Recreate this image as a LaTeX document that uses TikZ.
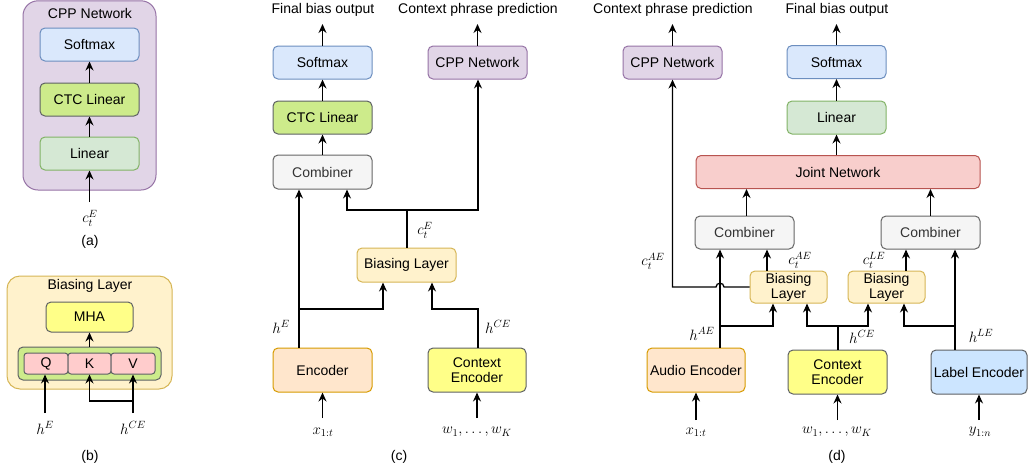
\RequirePackage{fix-cm}
\documentclass[tikz,border=0pt]{standalone}
\usepackage[no-math]{fontspec}
\setmainfont{Liberation Sans}
\usetikzlibrary{arrows.meta}
\definecolor{purF}{HTML}{E1D5E7}\definecolor{purD}{HTML}{9673A6}
\definecolor{bluF}{HTML}{DAE8FC}\definecolor{bluD}{HTML}{6C8EBF}
\definecolor{grnF}{HTML}{D5E8D4}\definecolor{grnD}{HTML}{82B366}
\definecolor{limF}{HTML}{CDEB8B}\definecolor{darkD}{HTML}{36393D}
\definecolor{gryF}{HTML}{F5F5F5}\definecolor{gryD}{HTML}{666666}\definecolor{gryT}{HTML}{333333}
\definecolor{ylwF}{HTML}{FFF2CC}\definecolor{ylwD}{HTML}{D6B656}
\definecolor{orgF}{HTML}{FFE6CC}\definecolor{orgD}{HTML}{D79B00}
\definecolor{lemF}{HTML}{FFFF88}
\definecolor{skyF}{HTML}{CCE5FF}
\definecolor{redF}{HTML}{F8CECC}\definecolor{redD}{HTML}{B85450}
\definecolor{pnkF}{HTML}{FFCCCC}
\newcommand{\lblfont}{\fontsize{14}{16}\selectfont}
\newcommand{\mthfont}{\fontsize{15}{17}\selectfont}
\tikzset{
  bx/.style={draw, rounded corners=5pt, line width=1pt, inner sep=0pt, align=center, font=\lblfont},
  purple/.style={bx, fill=purF, draw=purD},
  blue/.style={bx, fill=bluF, draw=bluD},
  green/.style={bx, fill=grnF, draw=grnD},
  lime/.style={bx, fill=limF, draw=darkD!80},
  grey/.style={bx, fill=gryF, draw=gryD, text=gryT},
  yellow/.style={bx, fill=ylwF, draw=ylwD},
  orange/.style={bx, fill=orgF, draw=orgD},
  lemon/.style={bx, fill=lemF, draw=darkD!80},
  sky/.style={bx, fill=skyF, draw=darkD!80},
  red/.style={bx, fill=redF, draw=redD},
  pink/.style={bx, fill=pnkF, draw=darkD!80, rounded corners=3pt},
  txt/.style={inner sep=0pt, font=\lblfont},
  mth/.style={inner sep=0pt, font=\mthfont},
  arr/.style={-{Stealth[length=9pt,width=8pt,inset=3pt]}, line width=1.3pt},
  ln/.style={line width=1.3pt},
}
\begin{document}
\begin{tikzpicture}[x=1pt,y=-1pt]
\path[use as bounding box, fill=white] (0,0) rectangle (1028,472);

% ---------------- (a)
\draw[fill=purF, draw=purD, line width=1pt, rounded corners=15pt] (23,0.8) rectangle (156,190);
\node[txt] (aTitle) at (90,13) {CPP Network};
\node[blue, minimum width=99pt, minimum height=33pt] (aSoft) at (89.5,44.5) {Softmax};
\node[lime, minimum width=99pt, minimum height=33pt] (aCTC) at (89.5,99.5) {CTC Linear};
\node[green, minimum width=99pt, minimum height=33pt] (aLin) at (89.5,153.5) {Linear};
\coordinate (aIn) at (89.5,202);
\node[mth] (aLab) at (90,218) {$c_t^E$};
\node[txt] (aCap) at (90,242) {(a)};
\draw[arr] (aIn) -- (aLin);
\draw[arr] (aLin) -- (aCTC);
\draw[arr] (aCTC) -- (aSoft);

% ---------------- (b)
\draw[fill=ylwF, draw=ylwD, line width=1pt, rounded corners=13pt] (7,276) rectangle (172,389);
\node[txt] (bTitle) at (90,286) {Biasing Layer};
\node[lemon, minimum width=87pt, minimum height=30pt] (bMHA) at (89.5,317) {MHA};
\node[bx, fill=limF, draw=darkD!80, minimum width=143pt, minimum height=33pt] (bQKV) at (89.5,363.5) {};
\node[pink, minimum width=44pt, minimum height=21pt] (bQ) at (46,363.5) {Q};
\node[pink, minimum width=43pt, minimum height=21pt] (bK) at (89.5,363.5) {K};
\node[pink, minimum width=44pt, minimum height=21pt] (bV) at (133,363.5) {V};
\draw[arr] (bQKV) -- (bMHA);
\node[mth] (bhE) at (45,428) {$h^E$};
\node[mth] (bhCE) at (133,428) {$h^{CE}$};
\coordinate (bQin) at (45,413);
\coordinate (bVin) at (133,413);
\coordinate (bJ) at (133,401);
\coordinate (bKj) at (89.5,401);
\draw[arr] (bQin) -- (bQ.south -| bQin);
\draw[arr] (bVin) -- (bV.south -| bVin);
\draw[arr] (bJ) -- (bKj) -- (bK.south);
\node[txt] (bCap) at (90,457) {(b)};

% ---------------- (c)
\node[blue, minimum width=99pt, minimum height=33pt] (cSoft) at (322.5,62.5) {Softmax};
\node[lime, minimum width=99pt, minimum height=33pt] (cCTC) at (322.5,117.5) {CTC Linear};
\node[grey, minimum width=99pt, minimum height=34pt] (cComb) at (322.5,172) {Combiner};
\node[purple, minimum width=99pt, minimum height=33pt] (cCPP) at (477.5,62.5) {CPP Network};
\node[yellow, minimum width=99pt, minimum height=34pt] (cBias) at (406.5,265) {Biasing Layer};
\node[orange, minimum width=99pt, minimum height=44pt] (cEnc) at (322.5,370) {Encoder};
\node[lemon, minimum width=98pt, minimum height=44pt] (cCtx) at (477,370) {Context\\[-1pt]Encoder};
\node[txt] (cOut1) at (323,10) {Final bias output};
\node[txt] (cOut2) at (478,10) {Context phrase prediction};
\coordinate (cO1) at (322.5,24);
\coordinate (cO2) at (477.5,24);
\draw[arr] (cSoft) -- (cO1);
\draw[arr] (cCPP) -- (cO2);
\draw[arr] (cCTC) -- (cSoft);
\draw[arr] (cComb) -- (cCTC);
\coordinate (cEj) at (299,309);
\coordinate (cB1) at (383,309);
\coordinate (cCj) at (478,309);
\coordinate (cB2) at (432,309);
\coordinate (cTj) at (407,210);
\coordinate (cL) at (347,210);
\coordinate (cR) at (478,210);
\draw[ln] (cEnc.north -| cEj) -- (cEj);
\draw[arr] (cEj) -- (cComb.south -| cEj);
\draw[arr] (cEj) -- (cB1) -- (cBias.south -| cB1);
\draw[arr] (cCtx.north -| cCj) -- (cCj) -- (cB2) -- (cBias.south -| cB2);
\draw[ln] (cBias.north -| cTj) -- (cTj);
\draw[arr] (cTj) -- (cL) -- (cComb.south -| cL);
\draw[arr] (cTj) -- (cR) -- (cCPP.south -| cR);
\node[mth] (cct) at (425,230) {$c_t^E$};
\node[mth] (chE) at (281,327) {$h^E$};
\node[mth] (chCE) at (498,327) {$h^{CE}$};
\node[mth] (cx) at (323,432) {$x_{1:t}$};
\node[mth] (cw) at (477,432) {$w_1,\ldots,w_K$};
\coordinate (cxi) at (322.5,418);
\coordinate (cwi) at (477,418);
\draw[arr] (cxi) -- (cEnc);
\draw[arr] (cwi) -- (cCtx);
\node[txt] (cCap) at (399,457) {(c)};

% ---------------- (d)
\node[purple, minimum width=99pt, minimum height=33pt] (dCPP) at (672.5,62.5) {CPP Network};
\node[blue, minimum width=99pt, minimum height=33pt] (dSoft) at (836.5,62) {Softmax};
\node[green, minimum width=99pt, minimum height=33pt] (dLin) at (836.5,117.5) {Linear};
\node[red, minimum width=284pt, minimum height=33pt] (dJoint) at (838,172) {Joint Network};
\node[grey, minimum width=99pt, minimum height=33pt] (dComb1) at (744.5,232.5) {Combiner};
\node[grey, minimum width=99pt, minimum height=33pt] (dComb2) at (930.5,232.5) {Combiner};
\node[yellow, minimum width=77pt, minimum height=32pt] (dBias1) at (788.5,287) {Biasing\\[-1pt]Layer};
\node[yellow, minimum width=77pt, minimum height=32pt] (dBias2) at (886.5,287) {Biasing\\[-1pt]Layer};
\node[orange, minimum width=98pt, minimum height=44pt] (dAE) at (696,370) {Audio Encoder};
\node[lemon, minimum width=99pt, minimum height=44pt] (dCE) at (837.5,372) {Context\\[-1pt]Encoder};
\node[sky, minimum width=96pt, minimum height=44pt] (dLE) at (979,372) {Label Encoder};
\node[txt] (dOut1) at (673,10) {Context phrase prediction};
\node[txt] (dOut2) at (837,10) {Final bias output};
\coordinate (dO1) at (672.5,24);
\coordinate (dO2) at (836.5,24);
\draw[arr] (dCPP) -- (dO1);
\draw[arr] (dSoft) -- (dO2);
\draw[arr] (dLin) -- (dSoft);
\draw[arr] (dJoint.north -| dLin) -- (dLin);
\coordinate (dC1x) at (746.5,200);
\coordinate (dC2x) at (930.5,200);
\draw[arr] (dComb1.north -| dC1x) -- (dJoint.south -| dC1x);
\draw[arr] (dComb2.north -| dC2x) -- (dJoint.south -| dC2x);
% audio encoder
\coordinate (dAj) at (720,326);
\coordinate (dA1) at (773,326);
\draw[ln] (dAE.north -| dAj) -- (dAj);
\draw[arr] (dAj) -- (dComb1.south -| dAj);
\draw[arr] (dAj) -- (dA1) -- (dBias1.south -| dA1);
% context encoder
\coordinate (dCj) at (838,326);
\coordinate (dCl) at (807,326);
\coordinate (dCr) at (868,326);
\draw[ln] (dCE.north -| dCj) -- (dCj);
\draw[arr] (dCj) -- (dCl) -- (dBias1.south -| dCl);
\draw[arr] (dCj) -- (dCr) -- (dBias2.south -| dCr);
% label encoder
\coordinate (dLj) at (955,326);
\coordinate (dLl) at (904,326);
\draw[ln] (dLE.north -| dLj) -- (dLj);
\draw[arr] (dLj) -- (dComb2.south -| dLj);
\draw[arr] (dLj) -- (dLl) -- (dBias2.south -| dLl);
% biasing outputs
\coordinate (dB1t) at (767,200);
\coordinate (dB2t) at (906,200);
\draw[arr] (dBias1.north -| dB1t) -- (dComb1.south -| dB1t);
\draw[arr] (dBias2.north -| dB2t) -- (dComb2.south -| dB2t);
% to CPP with hop
\coordinate (dHr) at (724,287);
\coordinate (dHl) at (716,287);
\coordinate (dCc) at (672.5,287);
\draw[arr] (dBias1.west) -- (dHr) .. controls (724,282) and (716,282) .. (dHl) -- (dCc) -- (dCPP.south);
% labels
\node[mth] (dl1) at (653,261) {$c_t^{AE}$};
\node[mth] (dl2) at (800,260) {$c_t^{AE}$};
\node[mth] (dl3) at (874,260) {$c_t^{LE}$};
\node[mth] (dl4) at (702,334) {$h^{AE}$};
\node[mth] (dl5) at (862,337) {$h^{CE}$};
\node[mth] (dl6) at (981,336) {$h^{LE}$};
\node[mth] (dx) at (696,432) {$x_{1:t}$};
\node[mth] (dw) at (837,432) {$w_1,\ldots,w_K$};
\node[mth] (dy) at (980,432) {$y_{1:n}$};
\coordinate (dxi) at (696,420);
\coordinate (dwi) at (837.5,420);
\coordinate (dyi) at (979,420);
\draw[arr] (dxi) -- (dAE);
\draw[arr] (dwi) -- (dCE);
\draw[arr] (dyi) -- (dLE);
\node[txt] (dCap) at (837,457) {(d)};
\end{tikzpicture}
\end{document}
